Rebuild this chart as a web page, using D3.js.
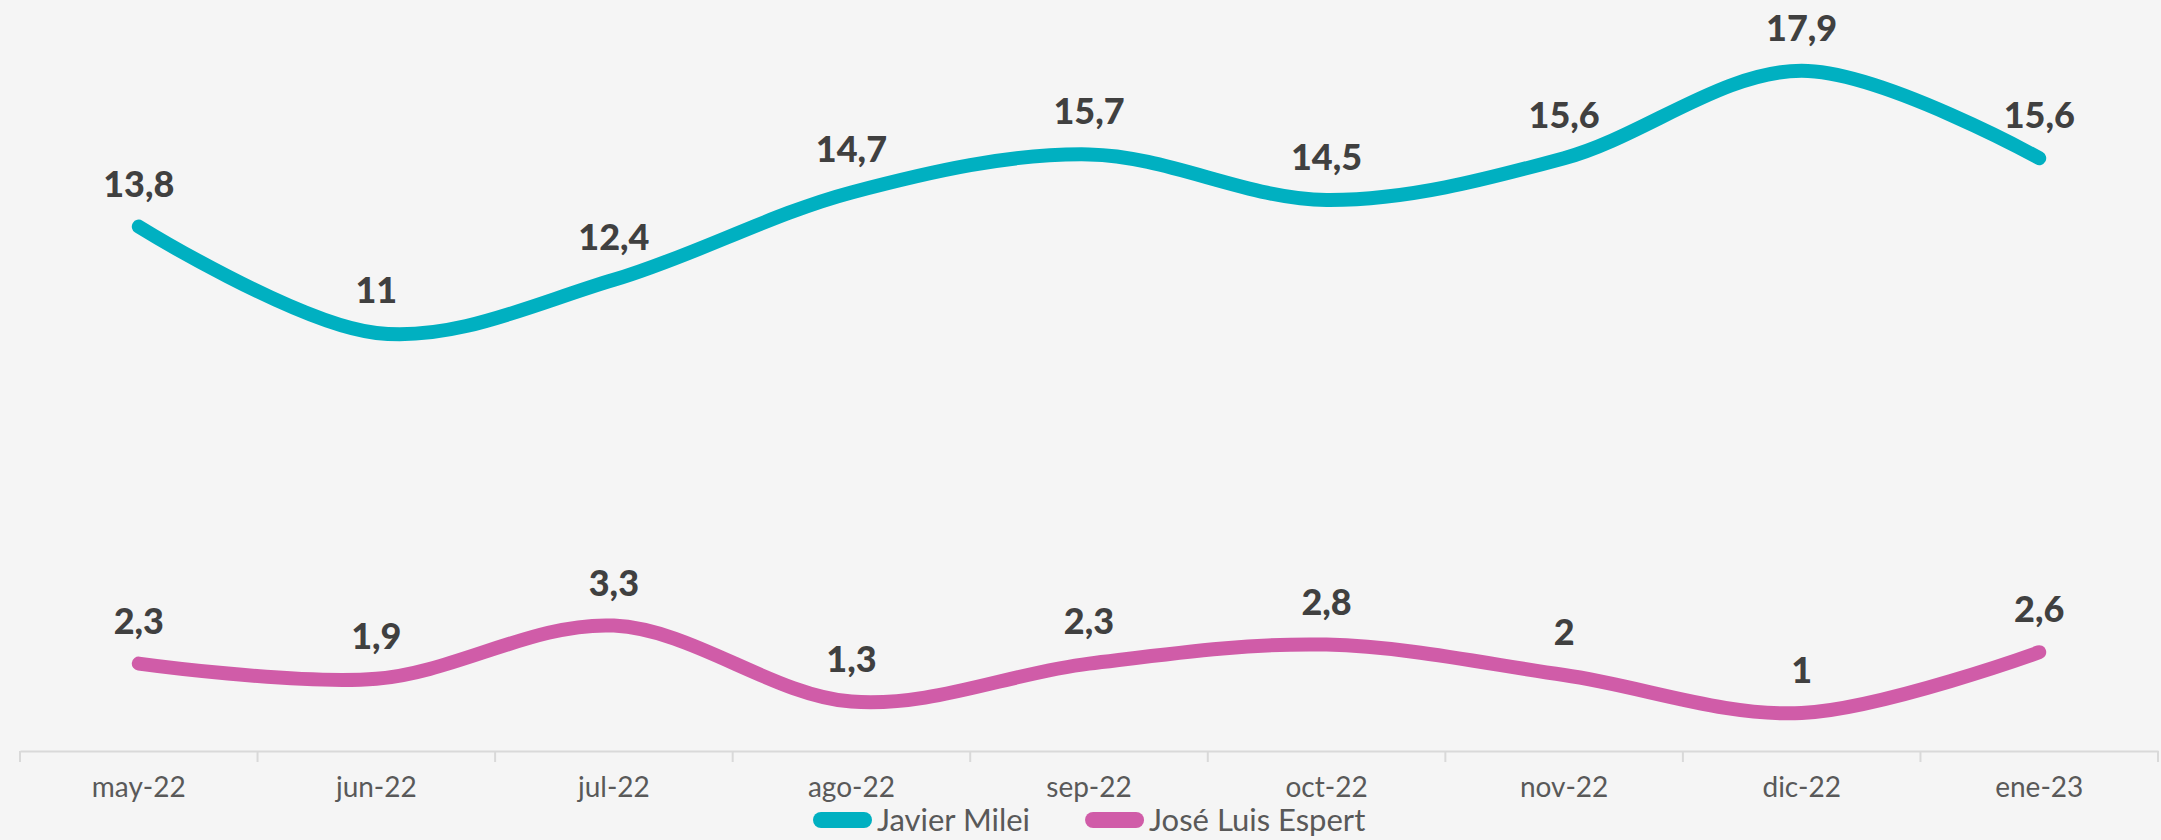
<!DOCTYPE html>
<html>
<head>
<meta charset="utf-8">
<script src="https://cdn.jsdelivr.net/npm/d3@7"></script>
<style>
  body { margin: 0; background: #f5f5f5; }
  svg { display: block; }
</style>
</head>
<body>
<svg id="chart" width="2161" height="840"></svg>
<script>
// chart data
const months = ["may-22", "jun-22", "jul-22", "ago-22", "sep-22", "oct-22", "nov-22", "dic-22", "ene-23"];
const mileiValues = [13.8, 11, 12.4, 14.7, 15.7, 14.5, 15.6, 17.9, 15.6];
const espertValues = [2.3, 1.9, 3.3, 1.3, 2.3, 2.8, 2, 1, 2.6];
const seriesNames = ["Javier Milei", "José Luis Espert"];
const seriesColors = ["#00b0c1", "#d05ca8"];

const width = 2161, height = 840;
const svg = d3.select("#chart");

svg.append("rect").attr("width", width).attr("height", height).attr("fill", "#f5f5f5");

const x = d3.scaleBand().domain(months).range([20, 2158]);
const y = d3.scaleLinear().domain([0, 20]).range([751, -9]);

// x axis
const xAxis = svg.append("g")
    .attr("transform", "translate(0,751)")
    .call(d3.axisBottom(x).tickSize(0).tickPadding(26));
xAxis.select(".domain").attr("stroke", "#d9d9d9").attr("stroke-width", 2);
xAxis.selectAll("text")
    .attr("fill", "#595959")
    .style("font-family", "Lato, 'Open Sans', sans-serif")
    .style("font-size", "28px");

// band edge ticks
const edges = months.map(m => x(m)).concat([x.range()[1]]);
svg.append("g").selectAll("line")
    .data(edges)
    .join("line")
    .attr("x1", d => d).attr("x2", d => d)
    .attr("y1", 751).attr("y2", 762)
    .attr("stroke", "#d9d9d9")
    .attr("stroke-width", 2);

const series = [
    {name: seriesNames[0], values: mileiValues, color: seriesColors[0]},
    {name: seriesNames[1], values: espertValues, color: seriesColors[1]}
];

const line = d3.line()
    .x((d, i) => x(months[i]) + x.bandwidth() / 2)
    .y(d => y(d))
    .curve(d3.curveCardinal.tension(0));

svg.selectAll(".serieLine")
    .data(series)
    .join("path")
    .classed("serieLine", true)
    .attr("d", d => line(d.values))
    .attr("fill", "none")
    .attr("stroke", d => d.color)
    .attr("stroke-width", 14)
    .attr("stroke-linecap", "round")
    .attr("stroke-linejoin", "round");

// value labels
series.forEach(s => {
    svg.append("g").selectAll("text")
        .data(s.values)
        .join("text")
        .attr("x", (d, i) => x(months[i]) + x.bandwidth() / 2)
        .attr("y", d => y(d) - 30)
        .attr("text-anchor", "middle")
        .attr("fill", "#404040")
        .style("font-family", "Lato, 'Open Sans', sans-serif")
        .style("font-weight", "900")
        .style("font-size", "36px")
        .text(d => String(d).replace(".", ","));
});

// legend
const legend = svg.append("g").attr("transform", "translate(813,820)");
let lx = 0;
series.forEach(s => {
    const item = legend.append("g").attr("transform", `translate(${lx},0)`);
    item.append("line")
        .attr("x1", 8).attr("x2", 51)
        .attr("y1", 0).attr("y2", 0)
        .attr("stroke", s.color)
        .attr("stroke-width", 16)
        .attr("stroke-linecap", "round");
    const t = item.append("text")
        .attr("x", 64)
        .attr("dy", "0.35em")
        .attr("fill", "#595959")
        .style("font-family", "Lato, 'Open Sans', sans-serif")
        .style("font-size", "31px")
        .text(s.name);
    lx += 64 + t.node().getComputedTextLength() + 55;
});
</script>
</body>
</html>
